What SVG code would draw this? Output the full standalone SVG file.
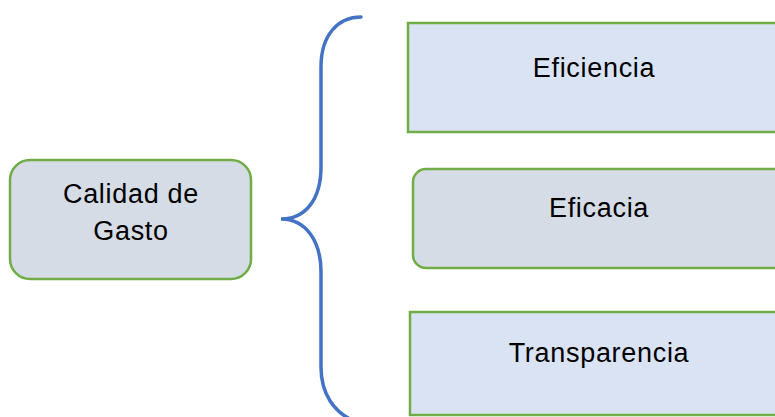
<svg xmlns="http://www.w3.org/2000/svg" width="775" height="417" viewBox="0 0 775 417">
  <style>
    .box { stroke: #70ad47; stroke-width: 2.5; }
    .light { fill: #dae3f3; }
    .grey { fill: #d6dce5; }
    .label { font-family: "Liberation Sans", Arial, sans-serif; font-size: 27px; letter-spacing: 0.7px; fill: #000; text-anchor: middle; }
    .brace { fill: none; stroke: #4472c4; stroke-width: 3.5; stroke-linecap: round; }
  </style>
  <rect width="775" height="417" fill="#ffffff"/>

  <g id="calidad-de-gasto">
    <rect class="box grey" x="10" y="160" width="241" height="119" rx="20" ry="20"/>
    <text class="label" x="131" y="203">Calidad de</text>
    <text class="label" x="131" y="240">Gasto</text>
  </g>

  <g id="connectors">
    <path class="brace" d="M361,17 C338,17 321,35 321,67 L321,167 C321,200 305,219 281,219 C305,219 321,240 321,272 L321,367 C321,395 335,412 352,420"/>
  </g>

  <g id="eficiencia">
    <rect class="box light" x="408" y="23" width="380" height="109"/>
    <text class="label" x="594" y="77">Eficiencia</text>
  </g>

  <g id="eficacia">
    <rect class="box grey" x="413" y="169" width="380" height="99" rx="13" ry="13"/>
    <text class="label" x="599" y="217">Eficacia</text>
  </g>

  <g id="transparencia">
    <rect class="box light" x="410" y="312" width="380" height="103"/>
    <text class="label" x="599" y="362">Transparencia</text>
  </g>
</svg>
